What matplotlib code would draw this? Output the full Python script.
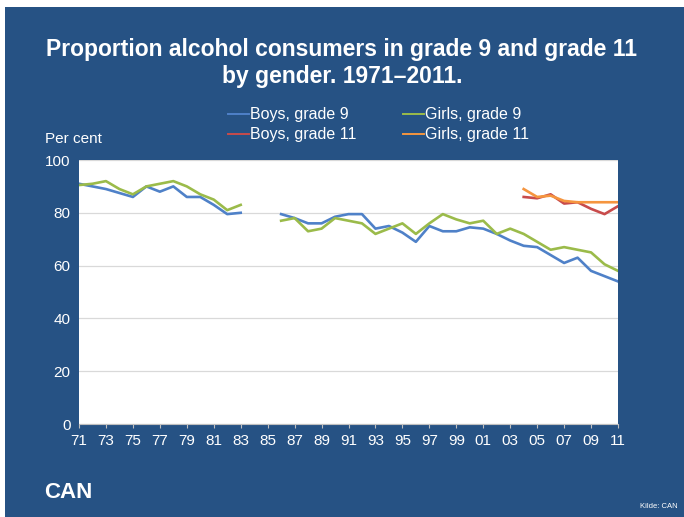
import numpy as np
import matplotlib
matplotlib.use("Agg")
import matplotlib.pyplot as plt
from matplotlib.patches import Rectangle
from matplotlib.lines import Line2D

plt.rcParams['font.family'] = ['Liberation Sans', 'DejaVu Sans']

nan = np.nan
years = list(range(1971, 2012))
boys9 = [91, 90, 89, 87.5, 86, 90, 88, 90, 86, 86, 83, 79.5, 80, nan, nan,
         79.5, 78, 76, 76, 78.5, 79.5, 79.5, 74, 75, 72.5, 69, 75, 73, 73, 74.5,
         74, 72, 69.5, 67.5, 67, 64, 61, 63, 58, 56, 54]
girls9 = [90.5, 91, 92, 89, 87, 90, 91, 92, 90, 87, 85, 81, 83, nan, nan,
          77, 78, 73, 74, 78, 77, 76, 72, 74, 76, 72, 76, 79.5, 77.5, 76,
          77, 72, 74, 72, 69, 66, 67, 66, 65, 60.5, 58]
years11 = list(range(2004, 2012))
boys11 = [86, 85.5, 87, 83.5, 84, 81.5, 79.5, 82.5]
girls11 = [89, 86, 86.5, 84.5, 84, 84, 84, 84]
xtick_years = list(range(1971, 2012, 2))
xtick_labels = [f"{y % 100:02d}" for y in xtick_years]
yticks = [0, 20, 40, 60, 80, 100]

BG = '#265284'
W, H = 684, 517
fig = plt.figure(figsize=(6.84, 5.17), dpi=100)
fig.patch.set_facecolor('white')
fig.patches.append(Rectangle((5/W, 0), 1, 1 - 7/H, transform=fig.transFigure,
                             facecolor=BG, edgecolor='none', zorder=-10))

ax = fig.add_axes([79/W, 1 - 424/H, (618 - 79)/W, (424 - 160)/H])
ax.set_facecolor('white')
series = [
    (years, boys9, '#4F81C8', 'Boys, grade 9'),
    (years, girls9, '#9BBB4A', 'Girls, grade 9'),
    (years11, boys11, '#C84B4B', 'Boys, grade 11'),
    (years11, girls11, '#F5953F', 'Girls, grade 11'),
]
for xs, ys, c, lab in series:
    ax.plot(xs, ys, color=c, lw=1.9, label=lab)

ax.set_xlim(1971, 2011)
ax.set_ylim(0, 100)
ax.set_xticks(xtick_years)
ax.set_xticklabels(xtick_labels)
ax.set_yticks(yticks)
ax.tick_params(axis='x', colors='white', labelsize=11, length=3, width=0.8,
               pad=4)
ax.tick_params(axis='x', color='#BFBFBF')
ax.tick_params(axis='y', colors='white', labelsize=11, length=0, pad=6)
for s in ['top', 'right', 'left']:
    ax.spines[s].set_visible(False)
ax.spines['bottom'].set_color('#BFBFBF')
ax.grid(axis='y', color='#D9D9D9', lw=0.9)
ax.set_axisbelow(True)

fig.text(0.5, 1 - 50/H, "Proportion alcohol consumers in grade 9 and grade 11",
         ha='center', va='center', color='white', fontsize=16.5, fontweight='bold')
fig.text(0.5, 1 - 77/H, "by gender. 1971\u20132011.",
         ha='center', va='center', color='white', fontsize=16.5, fontweight='bold')

# legend (manual placement)
leg_pos = [(228, 114), (403, 114), (228, 134), (403, 134)]
for (xs, ys, c, lab), (lx, ly) in zip(series, leg_pos):
    fig.add_artist(Line2D([lx/W, (lx + 21)/W], [1 - ly/H, 1 - ly/H],
                          color=c, lw=1.4, transform=fig.transFigure))
    fig.text((lx + 22)/W, 1 - ly/H, lab, color='white', fontsize=11.5,
             ha='left', va='center')

fig.text(45/W, 1 - 139/H, "Per cent", color='white', fontsize=11,
         ha='left', va='center')
fig.text(44/W, 1 - 492/H, "CAN", color='white', fontsize=16,
         fontweight='bold', ha='left', va='center')
fig.text(678/W, 1 - 506/H, "Kilde: CAN", color='white', fontsize=5.5,
         ha='right', va='center')

fig.savefig('out.png', dpi=100, facecolor=fig.get_facecolor())
